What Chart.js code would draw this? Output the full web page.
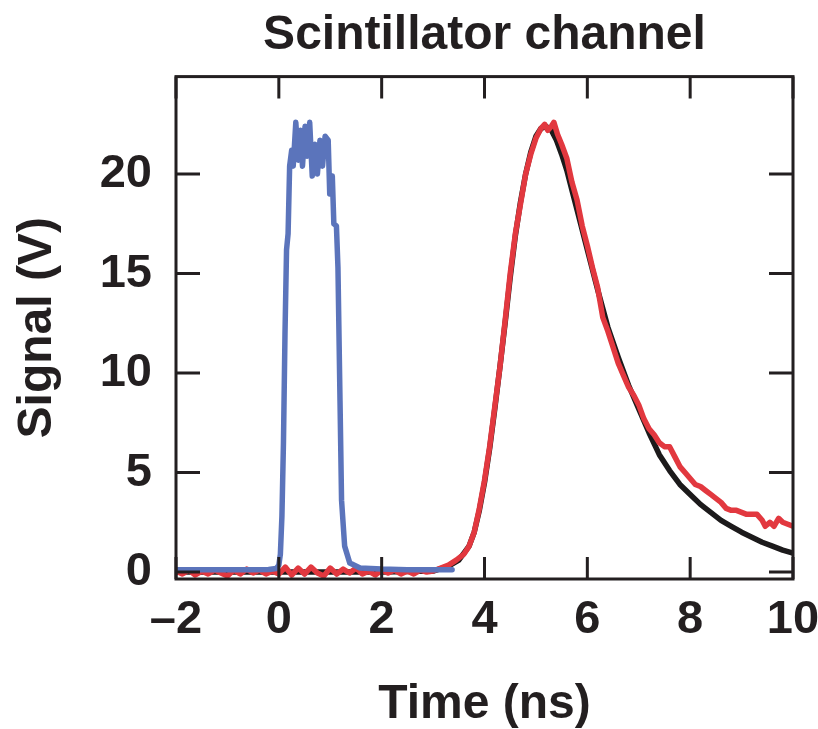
<!DOCTYPE html>
<html>
<head>
<meta charset="utf-8">
<title>Scintillator channel</title>
<script src="https://cdn.jsdelivr.net/npm/chart.js@4.4.0/dist/chart.umd.min.js"></script>
<style>
  html, body { margin: 0; padding: 0; background: #fff; }
  #wrap { width: 818px; height: 729px; }
</style>
</head>
<body>
<div id="wrap"><canvas id="scint" width="818" height="729"></canvas></div>
<script>
// Axis ticks
const timeTicks = [-2, 0, 2, 4, 6, 8, 10];
const signalTicks = [0, 5, 10, 15, 20];

// Blue trace (reference pulse)
const blueTime = [-2, -1.5, -1, -0.5, -0.2, -0.05, 0.0, 0.03, 0.06, 0.09, 0.12, 0.15, 0.18, 0.21, 0.25, 0.28,
  0.33, 0.38, 0.42, 0.46, 0.51, 0.55, 0.6, 0.65, 0.7, 0.75, 0.8, 0.85, 0.9, 0.96, 0.99, 1.04, 1.07,
  1.12, 1.15, 1.19, 1.22, 1.28, 1.38, 1.58, 2.0, 2.5, 3.0, 3.37];
const blueSignal = [0.12, 0.12, 0.12, 0.12, 0.13, 0.18, 0.35, 0.9, 2.8, 6.5, 12.0, 16.2, 17.0, 20.4, 21.2, 20.4,
  22.6, 20.7, 22.2, 20.4, 22.4, 20.9, 22.6, 19.9, 21.5, 20.0, 21.7, 20.4, 21.9, 21.7, 19.0, 19.9, 17.5,
  17.4, 15.3, 8.6, 3.6, 1.3, 0.45, 0.2, 0.15, 0.12, 0.12, 0.12];

// Red trace (scintillator signal)
const redTime = [-2, -1.875, -1.75, -1.625, -1.5, -1.375, -1.25, -1.125, -1, -0.875, -0.75, -0.625,
  -0.5, -0.375, -0.25, -0.125, 0, 0.125, 0.25, 0.375, 0.5, 0.625, 0.75, 0.875, 1, 1.125, 1.25, 1.375,
  1.5, 1.625, 1.75, 1.875, 2, 2.125, 2.25, 2.375, 2.5, 2.625, 2.75, 2.875, 3, 3.15, 3.3, 3.45, 3.6,
  3.7, 3.8, 3.9, 4, 4.1, 4.2, 4.3, 4.4, 4.5, 4.6, 4.7, 4.8, 4.9, 5, 5.1, 5.17, 5.23, 5.3, 5.35, 5.42,
  5.5, 5.6, 5.7, 5.8, 5.9, 6, 6.1, 6.2, 6.3, 6.4, 6.5, 6.6, 6.7, 6.8, 6.9, 7, 7.1, 7.2, 7.3, 7.4, 7.5,
  7.6, 7.7, 7.8, 7.9, 8, 8.1, 8.2, 8.3, 8.4, 8.5, 8.6, 8.7, 8.8, 8.9, 9, 9.1, 9.2, 9.3, 9.4, 9.46,
  9.55, 9.63, 9.72, 9.8, 9.9, 10];
const redSignal = [0.05, -0.1, 0.1, -0.15, 0.05, -0.1, 0.1, -0.05, -0.2, 0.1, -0.1, 0.15,
  -0.05, 0.1, -0.1, 0.05, -0.1, 0.25, -0.15, 0.2, -0.1, 0.25, -0.05, -0.2, 0.2, -0.1, 0.15, -0.05,
  0.2, -0.1, 0.05, -0.15, 0.1, -0.05, 0.1, -0.1, 0.05, -0.1, 0.1, 0.0, 0.05, 0.2, 0.35, 0.6, 0.9,
  1.3, 2.0, 3.2, 4.6, 6.3, 8.3, 10.3, 12.6, 15.0, 17.0, 18.5, 20.0, 21.0, 21.8, 22.3, 22.5, 22.2, 22.4, 22.6, 22.0,
  21.5, 20.8, 19.6, 18.7, 17.4, 16.4, 15.3, 14.3, 12.8, 12.1, 11.3, 10.5, 9.9, 9.3, 8.9, 8.4, 7.7, 7.2, 6.9, 6.5, 6.3,
  6.3, 5.8, 5.3, 5.0, 4.7, 4.4, 4.3, 4.1, 3.9, 3.7, 3.5, 3.2, 3.1, 3.1, 3.0, 2.9, 2.9, 2.9, 2.6, 2.3,
  2.5, 2.3, 2.7, 2.5, 2.4, 2.3];

// Black trace (fit)
const fitTime = [-2, 0, 2, 3, 3.3, 3.5, 3.7, 3.8, 3.9, 4, 4.1, 4.2, 4.3, 4.4, 4.5, 4.6, 4.7, 4.8, 4.9,
  5, 5.1, 5.2, 5.3, 5.4, 5.5, 5.6, 5.7, 5.8, 5.9, 6, 6.2, 6.4, 6.6, 6.8, 7, 7.2, 7.4, 7.6, 7.8, 8,
  8.2, 8.4, 8.6, 8.8, 9, 9.2, 9.4, 9.6, 9.8, 10];
const fitSignal = [0, 0, 0, 0.05, 0.3, 0.6, 1.3, 2.0, 3.1, 4.5, 6.2, 8.2, 10.3, 12.5, 14.8, 16.9, 18.6, 20.0, 21.1,
  21.9, 22.3, 22.4, 22.2, 21.7, 21.0, 20.2, 19.2, 18.2, 17.2, 16.2, 14.2, 12.3, 10.8, 9.4, 8.2, 7.0, 5.9, 5.1, 4.4, 3.9,
  3.4, 3.0, 2.6, 2.3, 2.0, 1.75, 1.5, 1.3, 1.1, 0.95];

const ink = '#231f20';
const fontFamily = "'Liberation Sans', Arial, Helvetica, sans-serif";

function pair(xs, ys) {
    return xs.map((x, i) => ({ x: x, y: ys[i] }));
}

// Frame with inward ticks on all four sides
const frameTicks = {
    id: 'frameTicks',
    afterDatasetsDraw(chart) {
        const { ctx, chartArea: a, scales: { x, y } } = chart;
        ctx.save();
        ctx.strokeStyle = ink;
        ctx.lineWidth = 3;
        ctx.beginPath();
        timeTicks.forEach(v => {
            const px = x.getPixelForValue(v);
            ctx.moveTo(px, a.bottom);
            ctx.lineTo(px, a.bottom - 22);
            ctx.moveTo(px, a.top);
            ctx.lineTo(px, a.top + 22);
        });
        signalTicks.forEach(v => {
            const py = y.getPixelForValue(v);
            ctx.moveTo(a.left, py);
            ctx.lineTo(a.left + 24, py);
            ctx.moveTo(a.right, py);
            ctx.lineTo(a.right - 24, py);
        });
        ctx.stroke();
        ctx.strokeRect(a.left, a.top, a.right - a.left, a.bottom - a.top);
        ctx.restore();
    }
};

new Chart(document.getElementById('scint'), {
    type: 'line',
    data: {
        datasets: [{
            label: 'Reference',
            data: pair(blueTime, blueSignal),
            borderColor: '#5b74bb',
            borderWidth: 5.5
        }, {
            label: 'Scintillator',
            data: pair(redTime, redSignal),
            borderColor: '#e2383f',
            borderWidth: 5.5
        }, {
            label: 'Fit',
            data: pair(fitTime, fitSignal),
            borderColor: '#1c1a1b',
            borderWidth: 5.5
        }]
    },
    options: {
        responsive: false,
        animation: false,
        devicePixelRatio: 1,
        layout: { padding: { left: 0, right: 25, top: 0, bottom: 0 } },
        elements: {
            point: { radius: 0 },
            line: { tension: 0, borderJoinStyle: 'round', borderCapStyle: 'round' }
        },
        plugins: {
            legend: { display: false },
            tooltip: { enabled: false },
            title: {
                display: true,
                fullSize: false,
                text: 'Scintillator channel',
                color: ink,
                font: { family: fontFamily, size: 48, weight: 'bold', lineHeight: 1.2 },
                padding: { top: 7, bottom: 12 }
            }
        },
        scales: {
            x: {
                type: 'linear',
                min: -2,
                max: 10,
                grid: { display: false, drawTicks: false },
                border: { display: false },
                afterBuildTicks: s => { s.ticks = timeTicks.map(v => ({ value: v })); },
                afterFit: s => {
                    s.height = 150;
                    s.paddingLeft = 0;
                    s.paddingRight = 0;
                },
                ticks: {
                    color: ink,
                    font: { family: fontFamily, size: 47, weight: 'bold' },
                    padding: 13,
                    maxRotation: 0,
                    autoSkip: false,
                    callback: v => v < 0 ? '\u2013' + Math.abs(v) : String(v)
                },
                title: {
                    display: true,
                    text: 'Time (ns)',
                    color: ink,
                    font: { family: fontFamily, size: 48, weight: 'bold', lineHeight: 1 },
                    padding: { top: 0, bottom: 0 }
                }
            },
            y: {
                type: 'linear',
                min: -0.35,
                max: 24.9,
                grid: { display: false, drawTicks: false },
                border: { display: false },
                afterBuildTicks: s => { s.ticks = signalTicks.map(v => ({ value: v })); },
                afterFit: s => {
                    s.width = 176;
                    s.paddingTop = 0;
                    s.paddingBottom = 0;
                },
                ticks: {
                    color: ink,
                    font: { family: fontFamily, size: 47, weight: 'bold' },
                    padding: 24
                },
                title: {
                    display: true,
                    text: 'Signal (V)',
                    color: ink,
                    font: { family: fontFamily, size: 48, weight: 'bold', lineHeight: 1 },
                    padding: { top: 14, bottom: 0 }
                }
            }
        }
    },
    plugins: [frameTicks]
});
</script>
</body>
</html>
